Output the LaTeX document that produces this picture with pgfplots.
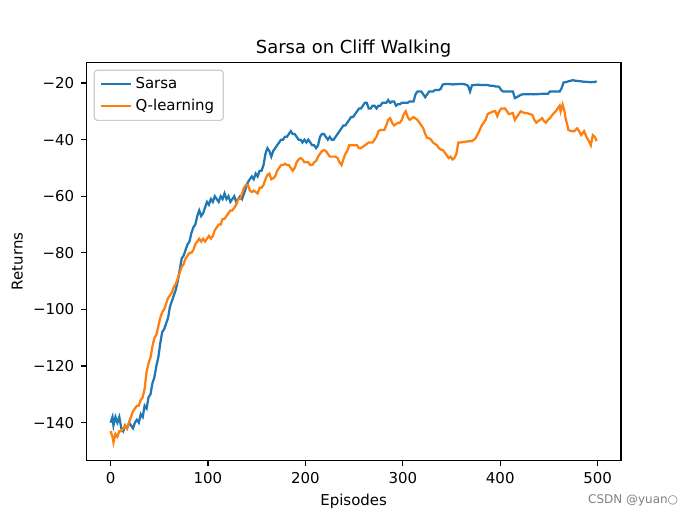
\documentclass[border=0pt]{standalone}
\usepackage{fontspec}
\setmainfont{DejaVu Sans}
\usepackage{pgfplots}
\pgfplotsset{compat=1.18}
\definecolor{tabblue}{HTML}{1F77B4}
\definecolor{taborange}{HTML}{FF7F0E}

\begin{document}
\begin{tikzpicture}
\begin{axis}[
  scale only axis,
  width=357.12pt, height=266.11pt,
  at={(0,0)}, anchor=south west,
  xmin=-24.95, xmax=523.95,
  ymin=-153.4, ymax=-12.6,
  xtick={0,100,200,300,400,500},
  ytick={-140,-120,-100,-80,-60,-40,-20},
  yticklabels={−140,−120,−100,−80,−60,−40,−20},
  /pgf/number format/assume math mode=true,
  tick align=outside,
  xtick pos=bottom, ytick pos=left,
  major tick length=3.5pt,
  tick style={black, line width=0.8pt},
  axis line style={line width=0.8pt},
  tick label style={font=\fontsize{10}{12}\selectfont},
  xticklabel style={yshift=-1pt},
  yticklabel style={xshift=-1pt},
  title={Sarsa on Cliff Walking},
  every axis title shift=0pt,
  title style={font=\fontsize{12}{14.4}\selectfont, at={(0.5,1)}, anchor=base, yshift=6pt},
  xlabel={Episodes}, ylabel={Returns},
  label style={font=\fontsize{10}{12}\selectfont},
  legend cell align=left,
  legend image code/.code={\draw[#1] (0pt,0pt) -- (20pt,0pt);},
  legend style={at={(0,1)}, anchor=north west, xshift=5pt, yshift=-5pt,
    draw=black!20, line width=0.8pt, rounded corners=2pt, fill=white,
    font=\fontsize{10}{12}\selectfont, row sep=1.5pt, inner xsep=4pt, inner ysep=3pt},
]
\addplot[tabblue, line width=1.5pt] coordinates {
(0,-140) (2,-138) (3,-141) (5,-138) (7,-140) (9,-138) (11,-142) (13,-143) (15,-141) (17,-142)
(19,-140) (21,-141) (23,-142) (25,-140) (27,-139) (29,-140) (31,-137) (33,-138) (35,-134) (37,-135)
(39,-131) (41,-130) (43,-126) (45,-124) (47,-120) (49,-117) (51,-112) (53,-108) (55,-107) (57,-105)
(59,-103) (61,-99) (63,-97) (65,-95) (67,-93) (69,-90) (71,-86) (73,-82) (75,-81) (77,-79)
(79,-77) (81,-76) (83,-73) (85,-71) (87,-70) (89,-67) (91,-65) (93,-67) (95,-66) (97,-64)
(99,-62) (101,-63) (103,-61) (105,-62) (107,-60) (109,-61) (111,-62) (113,-60) (115,-61) (117,-59)
(119,-61) (121,-60) (123,-62) (125,-61) (127,-60) (129,-62) (131,-61) (133,-60) (135,-61) (137,-59)
(139,-57) (141,-55) (143,-54) (145,-53) (147,-54) (149,-52) (151,-53) (153,-51) (155,-51) (157,-49)
(159,-45) (161,-43) (163,-44) (165,-46) (167,-44) (169,-43) (171,-42) (173,-41) (175,-40) (177,-40)
(179,-39) (181,-39) (183,-38) (185,-37) (187,-38) (189,-38) (191,-39) (193,-40) (195,-40) (197,-41)
(199,-40) (201,-41) (203,-40) (205,-41) (207,-42) (209,-42) (211,-43) (213,-42) (215,-39) (217,-38)
(219,-38) (221,-39) (223,-40) (225,-39) (227,-40) (229,-40) (231,-39) (233,-38) (235,-37) (237,-36)
(239,-35) (241,-35) (243,-34) (245,-33) (247,-32) (249,-32) (251,-31) (253,-30) (255,-29) (257,-29)
(259,-28) (261,-27) (263,-27) (265,-29) (267,-29) (269,-28) (271,-28) (273,-29) (275,-28) (277,-28)
(279,-27) (281,-27) (283,-27) (285,-26) (287,-27) (289,-26.5) (291,-26.5) (293,-28) (295,-27.5) (297,-27.5)
(299,-27) (301,-27) (303,-27) (305,-27) (307,-26.5) (309,-26.5) (311,-26.5) (313,-24) (315,-23) (317,-23)
(319,-23) (321,-24) (323,-25) (325,-24) (327,-23) (329,-23) (331,-23) (333,-22.5) (335,-22.5) (337,-22.5)
(339,-22) (341,-20.5) (343,-20.4) (347,-20.3) (351,-20.5) (355,-20.4) (359,-20.3) (363,-20.4) (365,-20.6) (367,-21)
(369,-23) (371,-20.8) (373,-20.7) (377,-20.6) (381,-20.7) (385,-20.7) (387,-20.7) (389,-20.9) (391,-21) (393,-21)
(395,-21.2) (397,-21.2) (399,-21.4) (401,-22.5) (403,-23) (407,-23) (411,-23) (413,-23) (415,-25.3) (417,-25)
(419,-24.6) (421,-24.2) (423,-24) (427,-24) (431,-23.9) (435,-24) (439,-23.9) (443,-23.8) (447,-23.8) (449,-23.8)
(451,-23) (453,-23) (457,-23) (459,-23) (461,-23) (463,-21.8) (465,-19.8) (467,-19.7) (469,-19.5) (473,-19.1)
(475,-19) (477,-19.2) (481,-19.3) (485,-19.5) (489,-19.6) (493,-19.7) (497,-19.6) (499,-19.4)
};
\addlegendentry{Sarsa}
\addplot[taborange, line width=1.5pt] coordinates {
(0,-143) (2,-145) (3,-147) (5,-144) (7,-145) (9,-143) (11,-143) (13,-142) (15,-141) (17,-142)
(19,-140) (21,-138) (23,-136) (25,-135) (27,-134) (29,-134) (31,-132) (33,-131) (35,-128) (37,-122)
(39,-119) (41,-117) (43,-113) (45,-110) (47,-109) (49,-106) (51,-103) (53,-101) (55,-100) (57,-98)
(59,-96) (61,-95) (63,-94) (65,-92) (67,-91) (69,-89) (71,-87) (73,-85) (75,-84) (77,-82)
(79,-81) (81,-80) (83,-80) (85,-79) (87,-77) (89,-76) (91,-75) (93,-76) (95,-75) (97,-76)
(99,-75) (101,-74) (103,-75) (105,-74) (107,-72) (109,-71) (111,-70) (113,-70) (115,-68) (117,-68)
(119,-67) (121,-66) (123,-65) (125,-65) (127,-64) (129,-63) (131,-61) (133,-61) (135,-59) (137,-57)
(139,-56) (141,-56) (143,-58) (145,-58.5) (147,-58) (149,-58.5) (151,-59) (153,-57) (155,-57) (157,-56)
(159,-54) (161,-52.5) (163,-52) (165,-54) (167,-53.6) (169,-53) (171,-51) (173,-50) (175,-49) (177,-49)
(179,-48.5) (181,-49) (183,-49) (185,-50) (187,-51) (189,-50) (191,-48) (193,-47) (195,-46.5) (197,-47)
(199,-48) (201,-48) (203,-48) (205,-49) (207,-49) (209,-48) (211,-47.5) (213,-46) (215,-45) (217,-44)
(219,-43.7) (221,-44) (223,-45) (225,-46) (227,-46) (229,-46) (231,-46) (233,-46.5) (235,-48) (237,-49)
(239,-47) (241,-45) (243,-44) (245,-42) (247,-42) (249,-42) (251,-42) (253,-42) (255,-43) (257,-43)
(259,-42.5) (261,-42) (263,-41.5) (265,-41) (267,-41) (269,-41) (271,-40) (273,-39) (275,-37) (277,-36.6)
(279,-36.6) (281,-36.6) (283,-35) (285,-33) (287,-32.4) (289,-34) (291,-35) (293,-34.5) (295,-34) (297,-34)
(299,-33) (301,-31) (303,-30) (305,-32) (307,-33) (309,-32.5) (311,-32) (313,-32.5) (315,-33) (317,-34)
(319,-35) (321,-36) (323,-38) (325,-39.4) (327,-39.5) (329,-40) (331,-41) (333,-41.5) (335,-42) (337,-43)
(339,-43.5) (341,-43.7) (343,-44.5) (345,-45.5) (347,-46.5) (349,-46) (351,-47) (353,-46.5) (355,-45) (357,-41)
(359,-41) (363,-40.8) (367,-40.6) (371,-40.5) (373,-40) (375,-39.4) (377,-38) (379,-36.5) (381,-35) (383,-34)
(385,-33) (387,-31) (389,-30.6) (391,-30.3) (393,-30) (395,-30) (397,-31.7) (399,-30) (401,-29) (403,-29)
(405,-29) (407,-30) (409,-31) (411,-30.8) (413,-30.6) (415,-33) (417,-32) (419,-31) (421,-30) (423,-30.3)
(425,-30.6) (427,-30.6) (429,-30.8) (431,-31) (433,-31.3) (435,-33) (437,-34) (439,-33.4) (441,-33) (443,-32.4)
(445,-33.5) (447,-34) (449,-33) (451,-32.4) (453,-31.5) (455,-30.6) (457,-30) (459,-29) (461,-28) (462,-30)
(464,-27.6) (466,-30) (467,-32.4) (469,-35) (470,-36.6) (473,-37) (476,-37) (479,-36) (481,-37) (483,-38.4)
(486,-37) (489,-39.4) (491,-40.5) (493,-42) (495,-38.4) (497,-39) (499,-40.5)
};
\addlegendentry{Q-learning}
\end{axis}
\node[anchor=west, text=black!50, font=\fontsize{8}{10}\selectfont, inner sep=0pt] at (335pt,-26.3pt) {CSDN @yuan○};
\pgfresetboundingbox
\path[use as bounding box] (-57.6pt,-38.016pt) rectangle (403.2pt,307.584pt);
\end{tikzpicture}
\end{document}
